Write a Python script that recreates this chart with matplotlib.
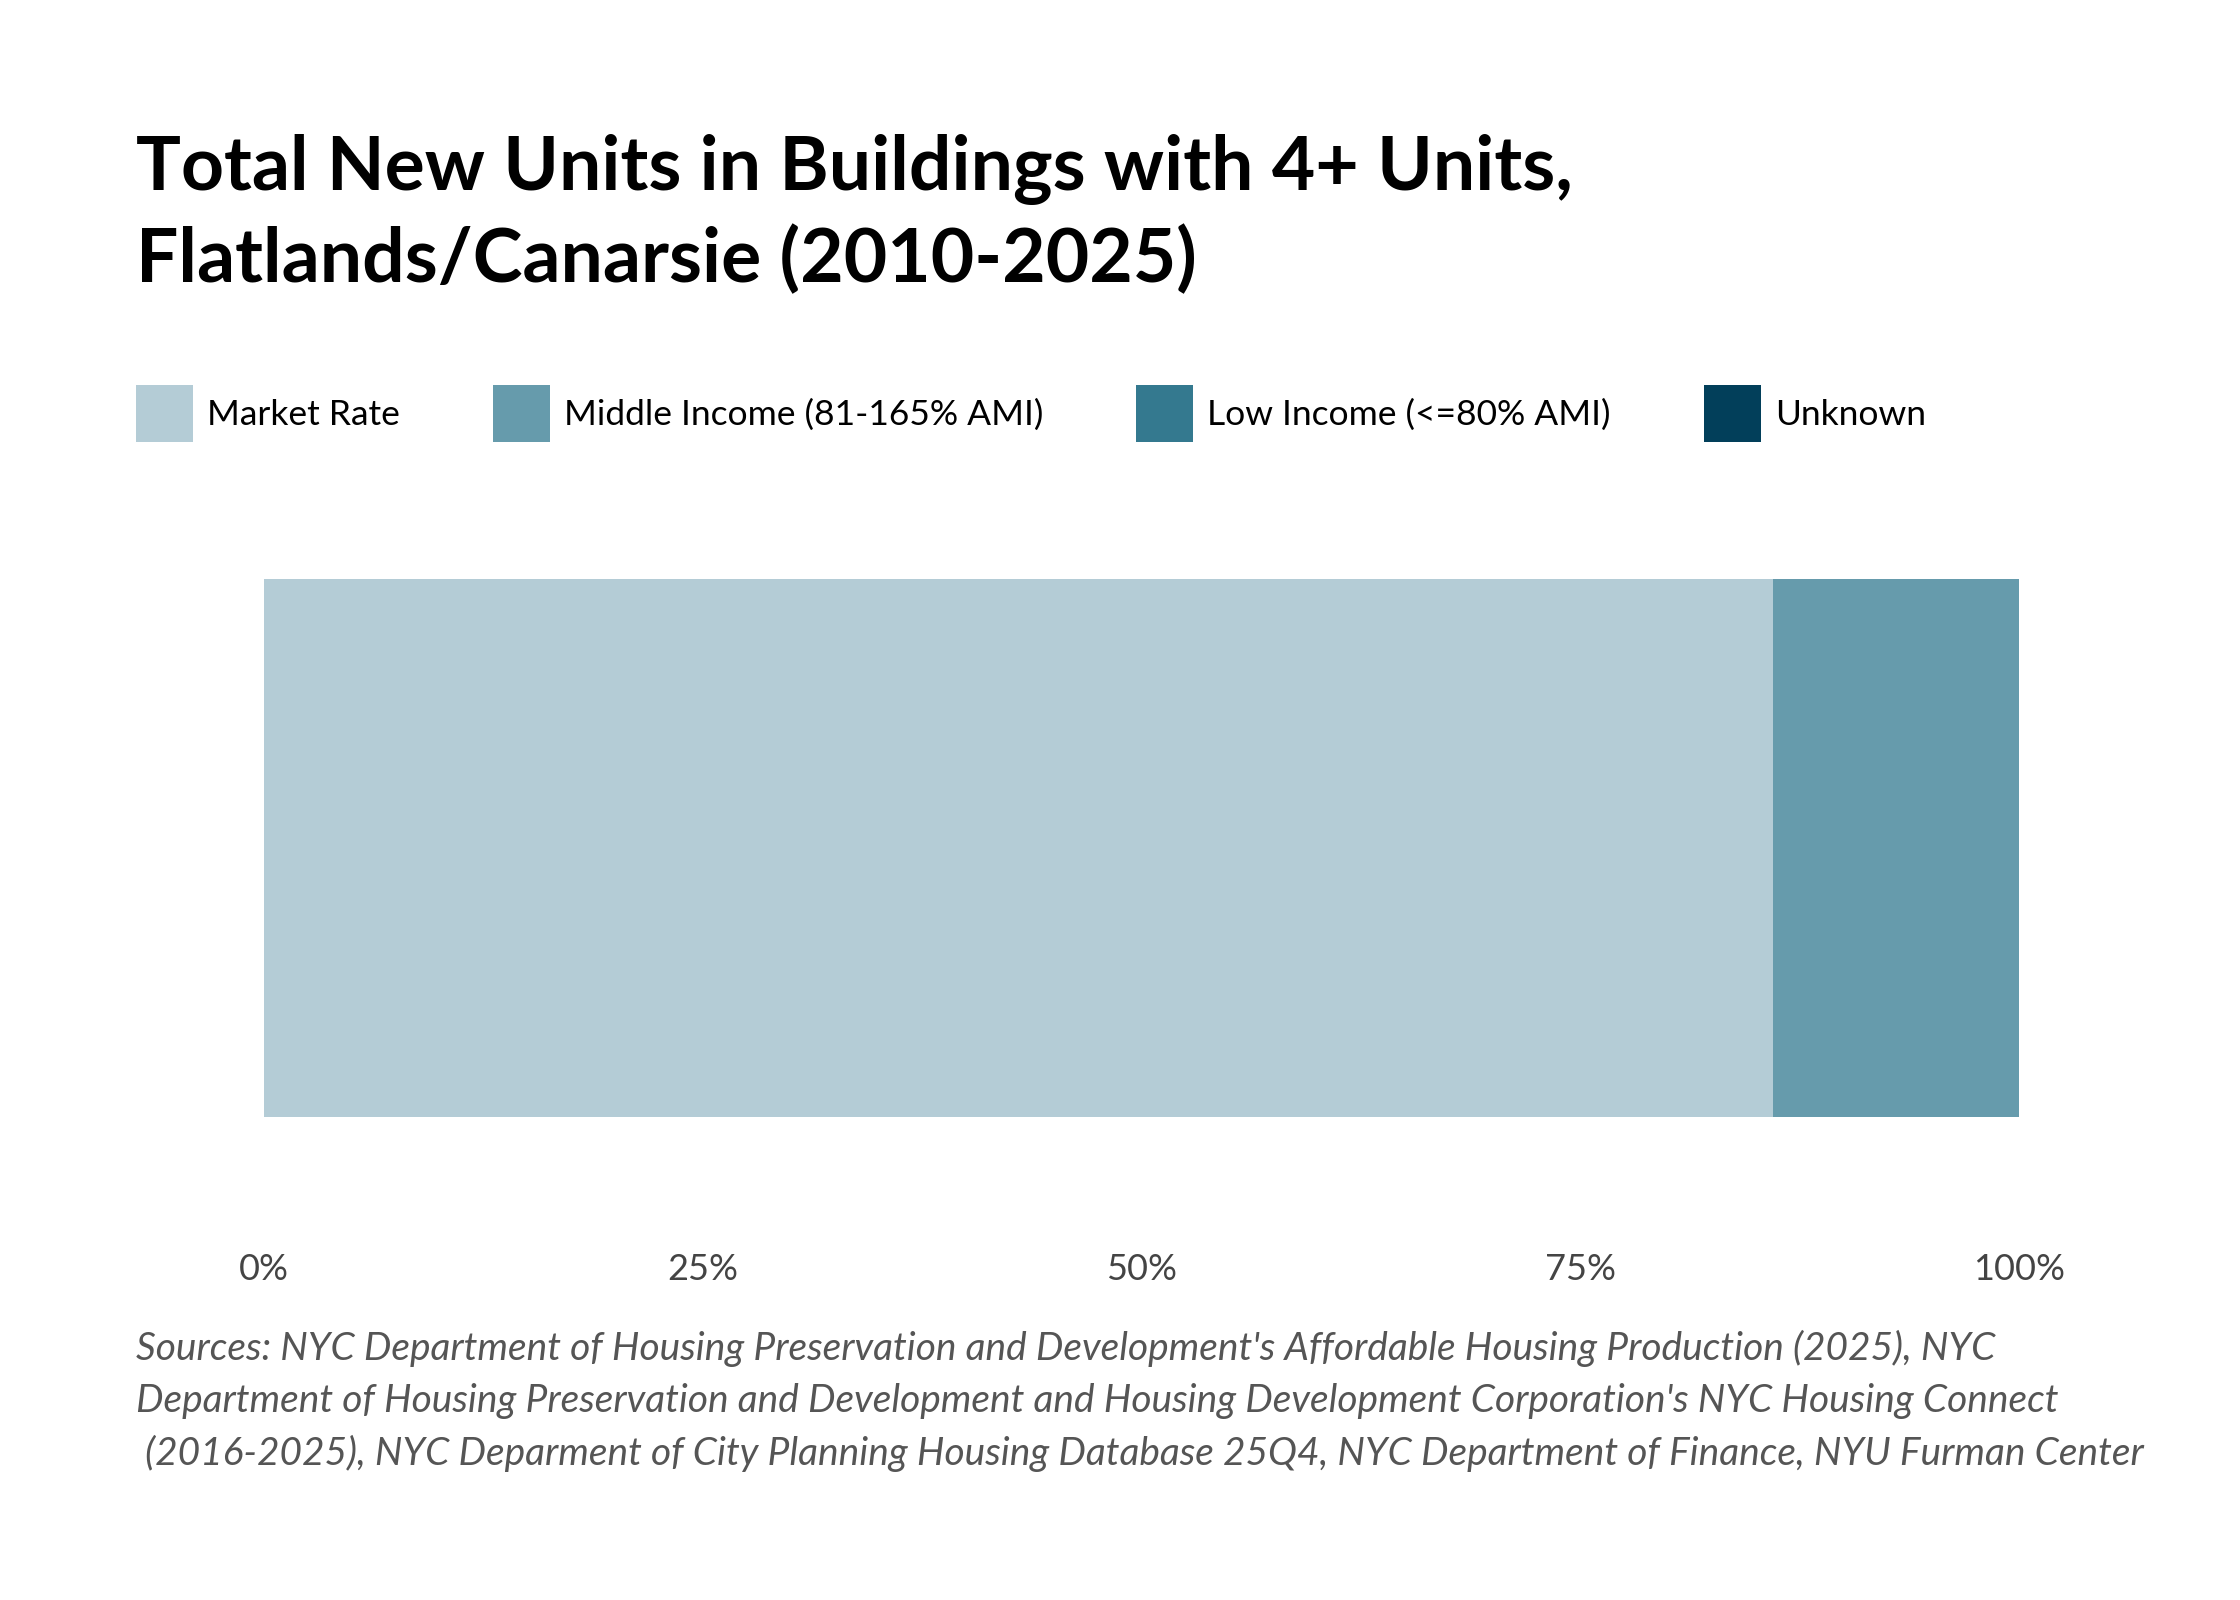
import matplotlib
matplotlib.use("Agg")
import matplotlib.pyplot as plt
from matplotlib.patches import Patch
from matplotlib.ticker import FuncFormatter

# share of new units by affordability (percent)
categories = ["Market Rate", "Middle Income (81-165% AMI)",
              "Low Income (<=80% AMI)", "Unknown"]
shares = [86.0, 14.0, 0.0, 0.0]
colors = ["#b4ccd6", "#669bac", "#34798f", "#023f5a"]
ticks = [0, 25, 50, 75, 100]

title = "Total New Units in Buildings with 4+ Units,\nFlatlands/Canarsie (2010-2025)"
source = ("Sources: NYC Department of Housing Preservation and Development's Affordable Housing Production (2025), NYC\n"
          "Department of Housing Preservation and Development and Housing Development Corporation's NYC Housing Connect\n"
          " (2016-2025), NYC Deparment of City Planning Housing Database 25Q4, NYC Department of Finance, NYU Furman Center")

plt.rcParams['font.family'] = ['Lato', 'DejaVu Sans']

W, H = 2240, 1600
fig = plt.figure(figsize=(W/100, H/100), dpi=100)

# bar area in pixels: x 264..2019, y 579..1117
ax = fig.add_axes([264/W, 1 - 1117/H, (2019-264)/W, (1117-579)/H])
left = 0
for cat, val, col in zip(categories, shares, colors):
  ax.barh(0, val, left=left, height=1.0, color=col, label=cat)
  left += val
ax.set_xlim(0, 100)
ax.set_ylim(-0.5, 0.5)
ax.set_yticks([])
ax.set_xticks(ticks)
ax.xaxis.set_major_formatter(FuncFormatter(lambda v, p: "{:.0f}%".format(v)))
ax.tick_params(axis='x', length=0, pad=98, labelsize=26, labelcolor="#444444")
for s in ax.spines.values():
  s.set_visible(False)

fig.text(136/W, 1 - 134/H, title, fontsize=54, fontweight='bold',
         color="black", va='top', ha='left', linespacing=1.34)

handles = [Patch(facecolor=c, edgecolor='none', label=l) for l, c in zip(categories, colors)]
fs = 25.5
fpx = fs*100/72
hh = (57/fpx - 0.245)/0.65
fig.legend(handles=handles, loc='upper left', bbox_to_anchor=(136/W, 1 - 385/H),
           ncol=4, frameon=False, fontsize=fs, borderpad=0, borderaxespad=0,
           handlelength=57/fpx, handleheight=hh, handletextpad=14/fpx,
           columnspacing=93/fpx)

fig.text(136/W, 1 - 1330/H, source, fontsize=28, style='italic',
         color="#555555", va='top', ha='left', linespacing=1.53)

fig.savefig("out.png", dpi=100, facecolor='white')
